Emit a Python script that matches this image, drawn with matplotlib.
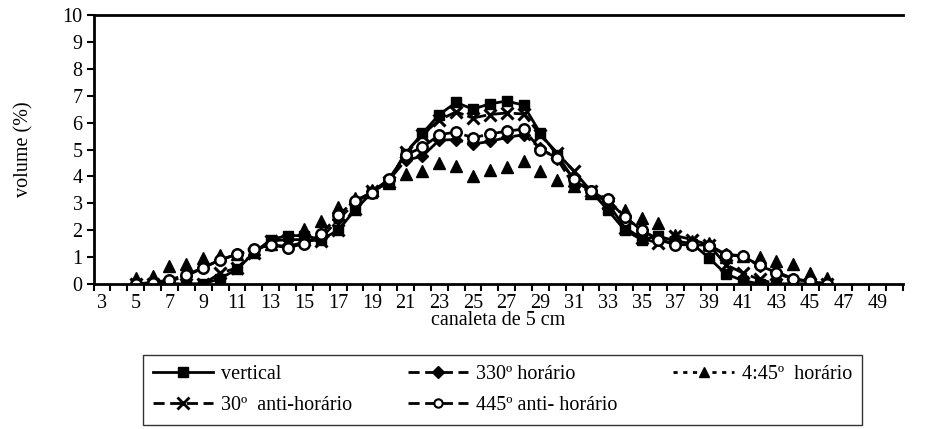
import numpy as np
import matplotlib
matplotlib.use("Agg")
import matplotlib.pyplot as plt
from matplotlib.lines import Line2D

plt.rcParams['font.family'] = ['Liberation Serif', 'DejaVu Serif']
plt.rcParams['font.size'] = 14.5

# --- dados (canaletas 5 a 46) ---
canaleta = list(range(5, 47))

vertical = [0, 0, 0, 0, 0, 0.2, 0.55, 1.15, 1.65, 1.8, 1.8, 1.65, 2.0, 2.75,
            3.4, 3.8, 4.85, 5.6, 6.3, 6.75, 6.5, 6.7, 6.8, 6.65, 5.6, 4.8,
            3.85, 3.45, 2.75, 2.0, 1.65, 1.78, 1.6, 1.5, 0.97, 0.37, 0.13,
            0, 0, 0, 0, 0]

h30 = [0, 0.05, 0.1, 0.3, 0.6, 0.9, 1.1, 1.3, 1.45, 1.4, 1.55, 1.7, 2.4, 3.0,
       3.45, 3.85, 4.6, 4.75, 5.35, 5.37, 5.2, 5.3, 5.45, 5.55, 5.05, 4.65,
       3.65, 3.45, 3.1, 2.5, 2.0, 1.65, 1.5, 1.45, 1.45, 1.1, 1.05, 0.66,
       0.45, 0.2, 0.1, 0]

h45 = [0.22, 0.3, 0.66, 0.76, 0.97, 1.09, 1.12, 1.3, 1.5, 1.6, 2.05, 2.35,
       2.85, 3.2, 3.5, 3.75, 4.1, 4.2, 4.5, 4.38, 4.0, 4.25, 4.34, 4.56,
       4.19, 3.88, 3.64, 3.4, 3.0, 2.76, 2.45, 2.27, 1.84, 1.6, 1.52, 1.0,
       1.05, 1.0, 0.84, 0.75, 0.41, 0.22]

a30 = [0, 0, 0, 0, 0, 0.4, 0.6, 1.15, 1.6, 1.65, 1.65, 1.6, 2.0, 2.8, 3.45,
       3.8, 4.9, 5.55, 6.1, 6.4, 6.17, 6.3, 6.36, 6.32, 5.55, 4.87, 4.19,
       3.45, 3.0, 2.1, 1.7, 1.52, 1.8, 1.65, 1.45, 0.72, 0.41, 0.17, 0, 0,
       0, 0]

a45 = [0, 0.05, 0.15, 0.35, 0.6, 0.9, 1.1, 1.3, 1.45, 1.35, 1.5, 1.85, 2.55,
       3.1, 3.4, 3.9, 4.8, 5.08, 5.55, 5.65, 5.43, 5.58, 5.68, 5.76, 5.0,
       4.68, 3.9, 3.45, 3.15, 2.5, 2.0, 1.65, 1.46, 1.46, 1.4, 1.09, 1.03,
       0.7, 0.41, 0.17, 0.1, 0]

rotulos_x = list(range(3, 50, 2))

# --- figura ---
fig = plt.figure(figsize=(9.27, 4.29), dpi=100)
ax = fig.add_axes([0.101, 0.338, 0.873, 0.627])

dash = (0, (7, 1.5))
ax.plot(canaleta, vertical, color='black', lw=2, marker='s', ms=7.5)
ax.plot(canaleta, h30, color='black', lw=2, ls=dash, marker='D', ms=6.5)
ax.plot(canaleta, h45, color='black', ls='none', marker='^', ms=9)
ax.plot(canaleta, a30, color='black', lw=2, ls=dash, marker='x', ms=8.5, mew=2.2)
ax.plot(canaleta, a45, color='black', lw=2, ls=dash, marker='o', ms=7.5,
        mfc='white', mew=1.8)

ax.set_xlim(2.5, 50.5)
ax.set_ylim(0, 10)
ax.set_yticks(range(0, 11))
ax.set_xticks(np.arange(2.5, 51, 1))
ax.set_xticklabels([])
ax.set_xticks(rotulos_x, minor=True)
ax.set_xticklabels([str(v) for v in rotulos_x], minor=True)
ax.tick_params(axis='x', which='major', direction='out', length=5, width=1.5)
ax.tick_params(axis='x', which='minor', length=0, pad=7)
ax.tick_params(axis='y', direction='out', length=5, width=1.5, pad=3)

for s in ['left', 'bottom', 'top']:
    ax.spines[s].set_linewidth(2)
ax.spines['right'].set_visible(False)

ax.set_xlabel('canaleta de 5 cm', labelpad=-1)
ax.set_ylabel('volume (%)', labelpad=21)

# --- legenda ---
hv = Line2D([], [], color='black', lw=2, marker='s', ms=7)
hh30 = Line2D([], [], color='black', lw=2, ls=(0, (4, 2)), marker='D', ms=6)
hh45 = Line2D([], [], color='black', lw=2, ls=(0, (1.5, 2)), marker='^', ms=7)
ha30 = Line2D([], [], color='black', lw=2, ls=(0, (4, 2)), marker='x', ms=8, mew=2)
ha45 = Line2D([], [], color='black', lw=2, ls=(0, (4, 2)), marker='o', ms=6,
              mfc='white', mew=1.5)

fig.legend([hv, ha30, hh30, ha45, hh45],
           ['vertical', '30º  anti-horário', '330º horário', '445º anti- horário',
            '4:45º  horário'],
           ncol=3, loc='lower left', bbox_to_anchor=(0.154, 0.009, 0.776, 0.159),
           mode='expand', frameon=True, fancybox=False, edgecolor='black',
           handlelength=3.0, handletextpad=0.4, borderpad=0.5, labelspacing=0.6,
           borderaxespad=0)

fig.savefig('out.png', dpi=100)
